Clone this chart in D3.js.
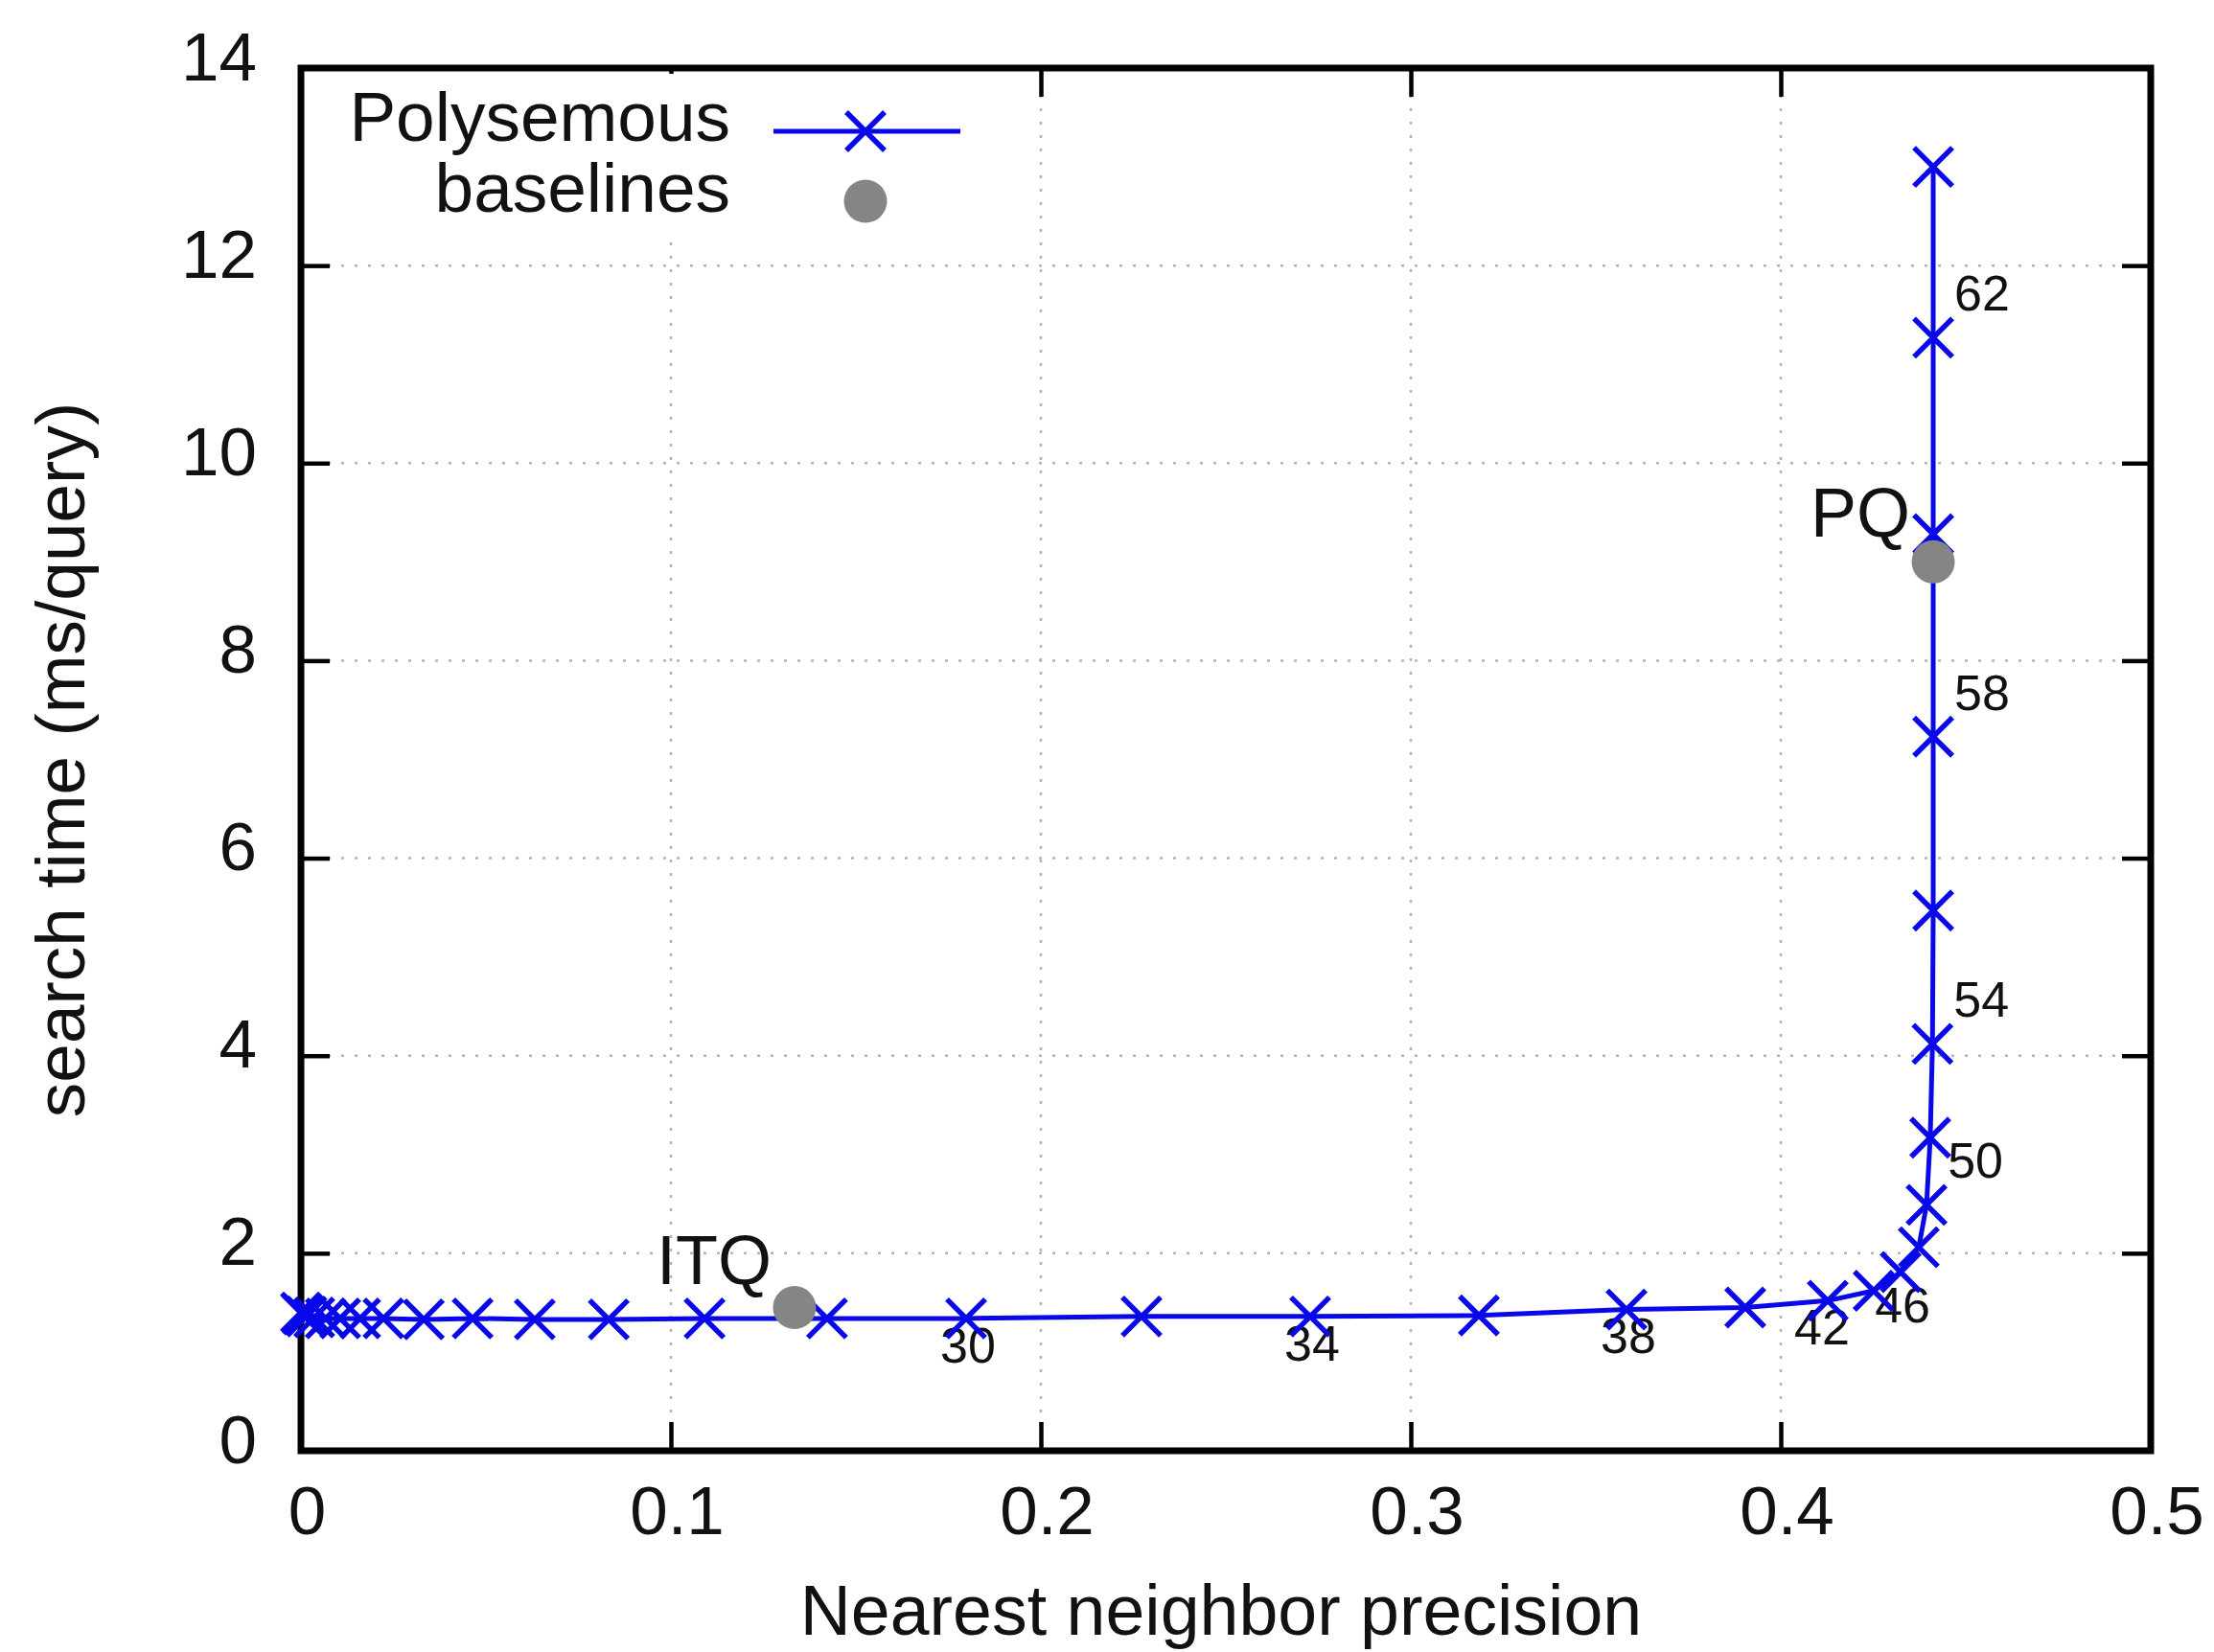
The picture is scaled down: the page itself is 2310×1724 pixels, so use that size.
<!DOCTYPE html>
<html>
<head>
<meta charset="utf-8">
<script src="https://cdn.jsdelivr.net/npm/d3@7"></script>
<style>
  body { margin: 0; background: #fff; }
  text { font-family: "Liberation Sans", Arial, Helvetica, sans-serif; fill: #111; }
</style>
</head>
<body>
<div id="chart"></div>
<script>
// data
const params = [2, 4, 6, 8, 10, 12, 14, 16, 18, 20, 22, 24, 26, 28, 30, 32, 34, 36, 38, 40,
                42, 44, 46, 48, 50, 52, 54, 56, 58, 60, 62, 64];
const precision = [0.0000, 0.0005, 0.0015, 0.0036, 0.0067, 0.0106, 0.0160, 0.0223, 0.0332, 0.0464,
                   0.0632, 0.0832, 0.1091, 0.1422, 0.1798, 0.2272, 0.2728, 0.3184, 0.3583, 0.3904,
                   0.4127, 0.4251, 0.4324, 0.4373, 0.4394, 0.4404, 0.4410, 0.4412, 0.4412, 0.4412, 0.4412, 0.4412];
const searchTime = [1.40, 1.38, 1.36, 1.35, 1.34, 1.34, 1.34, 1.34, 1.33, 1.34,
                    1.33, 1.33, 1.34, 1.34, 1.34, 1.36, 1.36, 1.37, 1.43, 1.45,
                    1.52, 1.62, 1.81, 2.06, 2.49, 3.17, 4.12, 5.47, 7.23, 9.28, 11.27, 13.0];
const labeledParams = [30, 34, 38, 42, 46, 50, 54, 58, 62];

const baselineNames = ['ITQ', 'PQ'];
const baselinePrecision = [0.1334, 0.4412];
const baselineTime = [1.45, 9.0];

const xTicks = [0, 0.1, 0.2, 0.3, 0.4, 0.5];
const yTicks = [0, 2, 4, 6, 8, 10, 12, 14];
const seriesNames = ['Polysemous', 'baselines'];

// layout
const W = 2310, H = 1724;
const pLeft = 314, pRight = 2244, pTop = 71, pBottom = 1514;
const blue = '#0808e8', grey = '#858585';

const svg = d3.select('#chart').append('svg')
    .attr('width', W).attr('height', H);

const x = d3.scaleLinear().domain([0, 0.5]).range([pLeft, pRight]);
const y = d3.scaleLinear().domain([0, 14]).range([pBottom, pTop]);

// grid
const grid = svg.append('g').attr('stroke', '#b4b4b4').attr('stroke-width', 2.5)
    .attr('stroke-dasharray', '3,11');
grid.selectAll('.gx').data(xTicks.slice(1, -1)).enter().append('line')
    .attr('x1', d => x(d)).attr('x2', d => x(d)).attr('y1', pTop).attr('y2', pBottom);
grid.selectAll('.gy').data(yTicks.slice(1, -1)).enter().append('line')
    .attr('y1', d => y(d)).attr('y2', d => y(d)).attr('x1', pLeft).attr('x2', pRight);

// axes with inward ticks
const xAxis = svg.append('g').attr('transform', 'translate(0,' + pBottom + ')')
    .call(d3.axisBottom(x).tickValues(xTicks).tickSize(-30).tickPadding(37)
        .tickFormat(d => d === 0 ? '0' : d3.format('.1f')(d)));
const yAxis = svg.append('g').attr('transform', 'translate(' + pLeft + ',0)')
    .call(d3.axisLeft(y).tickValues(yTicks).tickSize(-30).tickPadding(46));
const xTop = svg.append('g').attr('transform', 'translate(0,' + pTop + ')')
    .call(d3.axisTop(x).tickValues(xTicks).tickSize(-30).tickFormat(''));
const yRight = svg.append('g').attr('transform', 'translate(' + pRight + ',0)')
    .call(d3.axisRight(y).tickValues(yTicks).tickSize(-30).tickFormat(''));

[xAxis, yAxis, xTop, yRight].forEach(g => {
    g.select('.domain').remove();
    g.selectAll('.tick line').attr('stroke', '#000').attr('stroke-width', 4.5);
    g.selectAll('text').attr('font-size', 71).attr('fill', '#111')
        .attr('font-family', '"Liberation Sans", Arial, sans-serif');
});
xAxis.selectAll('text').attr('dx', 6);
yAxis.selectAll('text').attr('dy', '0.17em');

// frame
svg.append('rect')
    .attr('x', pLeft).attr('y', pTop)
    .attr('width', pRight - pLeft).attr('height', pBottom - pTop)
    .attr('fill', 'none').attr('stroke', '#000').attr('stroke-width', 7);

// axis titles
svg.append('text')
    .attr('x', (pLeft + pRight) / 2 - 5).attr('y', 1706)
    .attr('text-anchor', 'middle').attr('font-size', 73.5)
    .text('Nearest neighbor precision');
svg.append('text')
    .attr('transform', 'translate(88,793) rotate(-90)')
    .attr('text-anchor', 'middle').attr('font-size', 73)
    .text('search time (ms/query)');

// legend (opaque key box)
svg.append('rect').attr('x', pLeft + 6).attr('y', pTop + 6)
    .attr('width', 700).attr('height', 170).attr('fill', '#fff');

const points = params.map((p, i) => ({ p, px: precision[i], t: searchTime[i] }));

// parameter labels: below the curve on the flat part, right of it on the vertical part
const lab = svg.append('g').attr('font-size', 52);
lab.selectAll('text').data(points.filter(d => labeledParams.includes(d.p)))
    .enter().append('text')
    .attr('text-anchor', 'middle')
    .attr('x', d => x(d.px) + (d.p >= 50 ? 51 : (d.p === 42 ? -6 : 2)))
    .attr('y', d => y(d.t) + (d.p >= 50 ? -47 : (d.p === 46 ? 34 : 27)))
    .attr('dy', '0.36em')
    .text(d => d.p);

// baselines
const base = baselineNames.map((n, i) => ({ n, px: baselinePrecision[i], t: baselineTime[i] }));
svg.append('g').selectAll('text').data(base).enter().append('text')
    .attr('text-anchor', 'end').attr('font-size', 72)
    .attr('x', d => x(d.px) - 24)
    .attr('y', d => y(d.t) - (d.n === 'PQ' ? 52 : 50))
    .attr('dy', '0.36em')
    .text(d => d.n);

// polysemous curve
const line = d3.line().x(d => x(d.px)).y(d => y(d.t));
svg.append('path').datum(points)
    .attr('d', line).attr('fill', 'none')
    .attr('stroke', blue).attr('stroke-width', 5).attr('stroke-linejoin', 'round');

const s = 20;
const cross = (cx, cy) => 'M' + (cx - s) + ',' + (cy - s) + 'L' + (cx + s) + ',' + (cy + s) +
    'M' + (cx - s) + ',' + (cy + s) + 'L' + (cx + s) + ',' + (cy - s);
svg.append('g').selectAll('path').data(points).enter().append('path')
    .attr('d', d => cross(x(d.px), y(d.t)))
    .attr('stroke', blue).attr('stroke-width', 5.5).attr('fill', 'none');

svg.append('g').selectAll('circle').data(base).enter().append('circle')
    .attr('cx', d => x(d.px)).attr('cy', d => y(d.t)).attr('r', 22.5)
    .attr('fill', grey);

// legend entries
const leg = svg.append('g').attr('font-size', 73);
leg.selectAll('text').data(seriesNames).enter().append('text')
    .attr('x', 762).attr('y', (d, i) => 147 + i * 74)
    .attr('text-anchor', 'end')
    .text(d => d);
leg.append('line').attr('x1', 807).attr('x2', 1002).attr('y1', 137).attr('y2', 137)
    .attr('stroke', blue).attr('stroke-width', 5);
leg.append('path').attr('d', cross(903, 137))
    .attr('stroke', blue).attr('stroke-width', 5.5);
leg.append('circle').attr('cx', 903).attr('cy', 210).attr('r', 22.5).attr('fill', grey);
</script>
</body>
</html>
